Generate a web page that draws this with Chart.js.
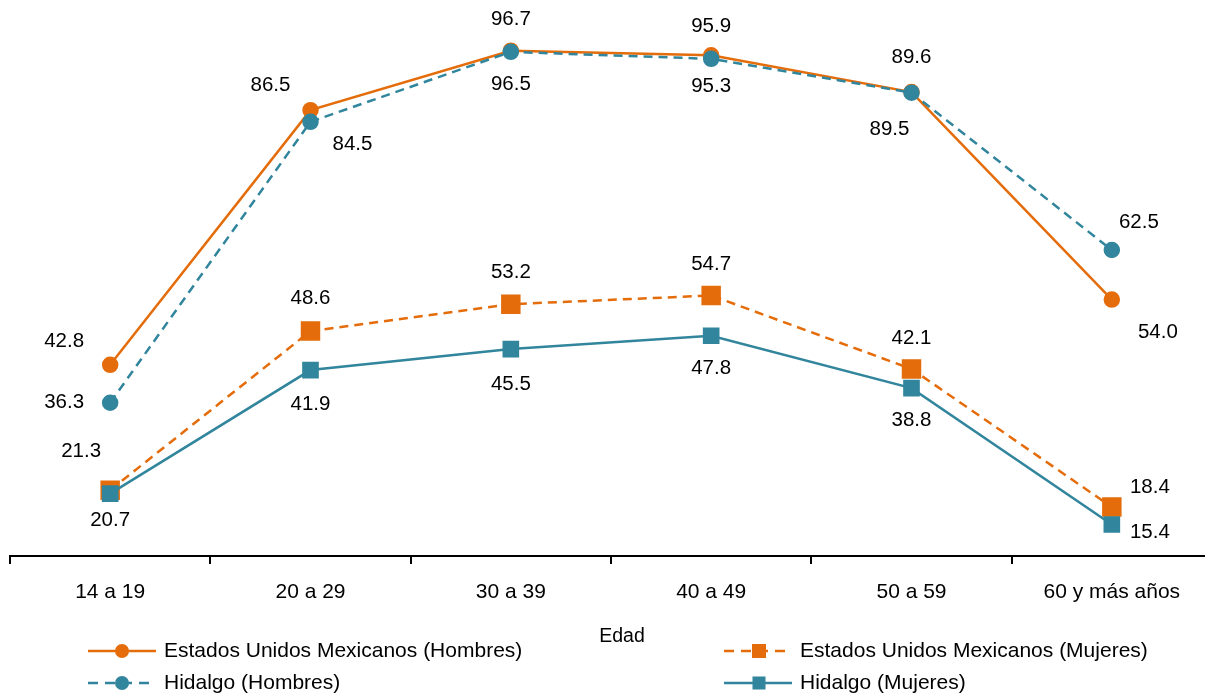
<!DOCTYPE html>
<html lang="es">
<head>
<meta charset="UTF-8">
<title>Tasa de participación por edad</title>
<script src="https://cdn.jsdelivr.net/npm/chart.js"></script>
<style>
  html, body { margin: 0; padding: 0; background: #fff; overflow: hidden; }
  #marco { width: 1205px; height: 696px; overflow: hidden; }
  #wrap { width: 1212px; height: 696px; position: relative; }
</style>
</head>
<body>
<div id="marco"><div id="wrap"><canvas id="grafico"></canvas></div></div>
<script>
  // datos
  const edades = ['14 a 19', '20 a 29', '30 a 39', '40 a 49', '50 a 59', '60 y más años'];
  const eumHombres = [42.8, 86.5, 96.7, 95.9, 89.6, 54.0];
  const eumMujeres = [21.3, 48.6, 53.2, 54.7, 42.1, 18.4];
  const hgoHombres = [36.3, 84.5, 96.5, 95.3, 89.5, 62.5];
  const hgoMujeres = [20.7, 41.9, 45.5, 47.8, 38.8, 15.4];

  const naranja = '#E46C0A';
  const azul = '#31859C';
  const fuente = "'Liberation Sans', Arial, sans-serif";

  // desplazamiento de cada etiqueta respecto a su punto (solo estilo)
  const desp = {
    eumH: [[-46, -23], [-40, -25], [0, -31], [0, -29], [0, -35], [46, 33]],
    eumM: [[-29, -39], [0, -33], [0, -32], [0, -31], [0, -31], [38, -20]],
    hgoH: [[-46, 0], [42, 23], [0, 32], [0, 27], [-22, 37], [27, -28]],
    hgoM: [[0, 27], [0, 34], [0, 35], [0, 33], [0, 32], [38, 8]]
  };

  const etiquetas = {
    id: 'etiquetas',
    afterDatasetsDraw(chart) {
      const ctx = chart.ctx;
      ctx.save();
      ctx.font = '20.5px ' + fuente;
      ctx.fillStyle = '#000';
      ctx.textAlign = 'center';
      ctx.textBaseline = 'middle';
      chart.data.datasets.forEach((ds, i) => {
        const meta = chart.getDatasetMeta(i);
        meta.data.forEach((pt, j) => {
          const d = desp[ds.clave][j];
          ctx.fillText(ds.data[j].toFixed(1), pt.x + d[0], pt.y + d[1]);
        });
      });
      ctx.restore();
    },
    afterDraw(chart) {
      const ctx = chart.ctx;
      ctx.save();
      ctx.font = '19.5px ' + fuente;
      ctx.fillStyle = '#000';
      ctx.textAlign = 'center';
      ctx.textBaseline = 'middle';
      ctx.fillText('Edad', 622, 637);

      // leyenda en dos columnas
      ctx.font = '21px ' + fuente;
      const pos = { eumH: [88, 651], eumM: [724, 651], hgoH: [88, 683], hgoM: [724, 683] };
      chart.data.datasets.forEach(ds => {
        const [x, y] = pos[ds.clave];
        ctx.strokeStyle = ds.borderColor;
        ctx.lineWidth = 2.5;
        ctx.setLineDash(ds.borderDash ? [10, 7] : []);
        ctx.beginPath();
        ctx.moveTo(x, y);
        ctx.lineTo(x + 68, y);
        ctx.stroke();
        ctx.setLineDash([]);
        ctx.fillStyle = ds.pointBackgroundColor;
        if (ds.pointStyle === 'circle') {
          ctx.beginPath();
          ctx.arc(x + 34, y, 7, 0, Math.PI * 2);
          ctx.fill();
        } else {
          const s = ds.legendaLado;
          ctx.fillRect(x + 35 - s / 2, y - s / 2, s, s);
        }
        ctx.fillStyle = '#000';
        ctx.textAlign = 'left';
        ctx.fillText(ds.label, x + 76, y);
      });
      ctx.restore();
    }
  };

  new Chart(document.getElementById('grafico'), {
    type: 'line',
    data: {
      labels: edades,
      datasets: [
        {
          clave: 'eumH', label: 'Estados Unidos Mexicanos (Hombres)', data: eumHombres,
          borderColor: naranja, backgroundColor: naranja, pointBackgroundColor: naranja,
          pointBorderColor: naranja, borderWidth: 2.5, pointStyle: 'circle', pointRadius: 7,
          order: 2
        },
        {
          clave: 'eumM', label: 'Estados Unidos Mexicanos (Mujeres)', data: eumMujeres,
          borderColor: naranja, backgroundColor: naranja, pointBackgroundColor: naranja,
          pointBorderColor: naranja, borderWidth: 2.5, borderDash: [9, 6],
          pointStyle: 'rect', pointRadius: 12, legendaLado: 14, order: 2
        },
        {
          clave: 'hgoH', label: 'Hidalgo (Hombres)', data: hgoHombres,
          borderColor: azul, backgroundColor: azul, pointBackgroundColor: azul,
          pointBorderColor: azul, borderWidth: 2.5, borderDash: [9, 6],
          pointStyle: 'circle', pointRadius: 7, order: 1
        },
        {
          clave: 'hgoM', label: 'Hidalgo (Mujeres)', data: hgoMujeres,
          borderColor: azul, backgroundColor: azul, pointBackgroundColor: azul,
          pointBorderColor: azul, borderWidth: 2.5, pointStyle: 'rect', pointRadius: 10,
          legendaLado: 13, order: 1
        }
      ]
    },
    options: {
      responsive: true,
      maintainAspectRatio: false,
      animation: false,
      layout: { autoPadding: false, padding: { left: 10, right: 0, top: 0, bottom: 0 } },
      plugins: { legend: { display: false }, tooltip: { enabled: false } },
      elements: { line: { tension: 0 }, point: { borderWidth: 1 } },
      scales: {
        x: {
          offset: true,
          grid: { drawOnChartArea: false, drawTicks: true, tickLength: 8, color: '#000', lineWidth: 2, offset: true },
          border: { display: true, color: '#000', width: 2 },
          ticks: { color: '#000', font: { family: fuente, size: 21 }, padding: 16, maxRotation: 0 },
          afterFit(scale) { scale.height = 140; }
        },
        y: { display: false, min: 10, max: 105.4 }
      }
    },
    plugins: [etiquetas]
  });
</script>
</body>
</html>
